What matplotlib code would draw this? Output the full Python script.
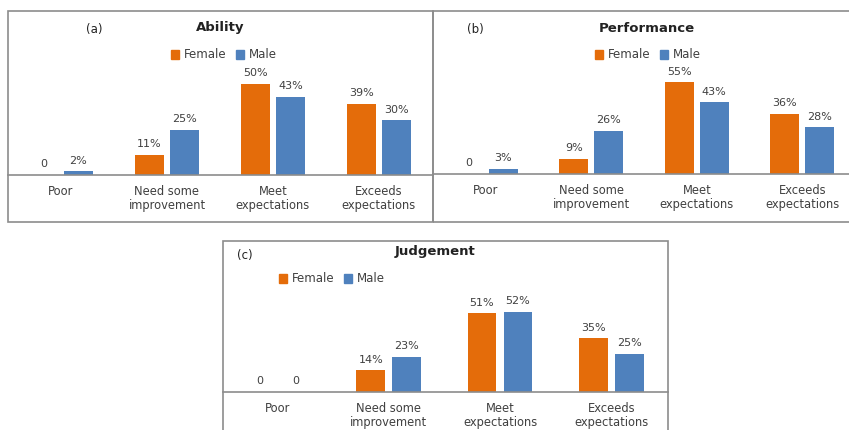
import matplotlib
matplotlib.use("Agg")
from matplotlib import pyplot as plt
from matplotlib.patches import Rectangle, Patch
import numpy as np

# data
categories = ["Poor", "Need some\nimprovement", "Meet\nexpectations", "Exceeds\nexpectations"]
ability_female = [0, 11, 50, 39]
ability_male = [2, 25, 43, 30]
performance_female = [0, 9, 55, 36]
performance_male = [3, 26, 43, 28]
judgement_female = [0, 14, 51, 35]
judgement_male = [0, 23, 52, 25]

ORANGE = "#E46C0A"
BLUE = "#4F81BD"
TXT = "#404040"
BORDER = "#8c8c8c"

W, H = 849, 430
fig = plt.figure(figsize=(W / 100, H / 100), dpi=100)
plt.rcParams["font.family"] = "DejaVu Sans"


def fx(px):
    return px / W


def fy(py):
    return 1 - py / H


def panel(box, baseline, px_per_pct, xlim, female, male, title, tag,
          title_xy, tag_xy, legend_xy, offset=0.165, width=0.275):
    x0, y0, x1, y1 = box
    # outer frame
    fig.patches.append(Rectangle((fx(x0), fy(y1)), fx(x1 - x0), (y1 - y0) / H,
                                 transform=fig.transFigure, fill=False,
                                 edgecolor=BORDER, lw=1.2))
    ax = fig.add_axes([fx(x0), fy(baseline), fx(x1 - x0), (baseline - y0) / H])
    ax.patch.set_alpha(0)
    x = np.arange(len(categories))
    bf = ax.bar(x - offset, female, width, color=ORANGE)
    bm = ax.bar(x + offset, male, width, color=BLUE)
    for bars, vals in ((bf, female), (bm, male)):
        for b, v in zip(bars, vals):
            lab = "0" if v == 0 else "%d%%" % v
            ax.annotate(lab, (b.get_x() + b.get_width() / 2, v),
                        xytext=(0, 4), textcoords="offset points",
                        ha="center", va="bottom", fontsize=8, color=TXT)
    ax.set_xlim(*xlim)
    ax.set_ylim(0, (baseline - y0) / px_per_pct)
    for s in ("top", "left", "right"):
        ax.spines[s].set_visible(False)
    ax.spines["bottom"].set_color(BORDER)
    ax.spines["bottom"].set_linewidth(1.2)
    ax.set_yticks([])
    ax.set_xticks(x)
    ax.set_xticklabels(categories, fontsize=8.3, color=TXT, linespacing=1.1)
    ax.tick_params(axis="x", length=0, pad=7)
    fig.text(fx(title_xy[0]), fy(title_xy[1]), title, ha="center", va="center",
             fontsize=9.5, fontweight="bold", color="#222222")
    fig.text(fx(tag_xy[0]), fy(tag_xy[1]), tag, ha="center", va="center",
             fontsize=8.5, color="#222222")
    handles = [Patch(color=ORANGE, label="Female"), Patch(color=BLUE, label="Male")]
    ax.legend(handles=handles, loc="center", ncol=2, frameon=False,
              bbox_to_anchor=(fx(legend_xy[0]), fy(legend_xy[1])),
              bbox_transform=fig.transFigure, fontsize=8.5, labelcolor=TXT,
              handlelength=0.7, handleheight=0.7, handletextpad=0.4,
              columnspacing=0.8)
    return ax


panel((8, 11, 433, 222), 175, 1.82, (-0.50, 3.51),
      ability_female, ability_male, "Ability", "(a)",
      (220, 28), (94, 30), (224, 55))
panel((433, 11, 855, 222), 174, 1.67, (-0.50, 3.50),
      performance_female, performance_male, "Performance", "(b)",
      (647, 28), (475, 30), (648, 55))
panel((223, 241, 668, 440), 392, 1.54, (-0.49, 3.51),
      judgement_female, judgement_male, "Judgement", "(c)",
      (435, 251), (245, 255), (332, 279), offset=0.162, width=0.26)

fig.savefig("out.png", dpi=100)
